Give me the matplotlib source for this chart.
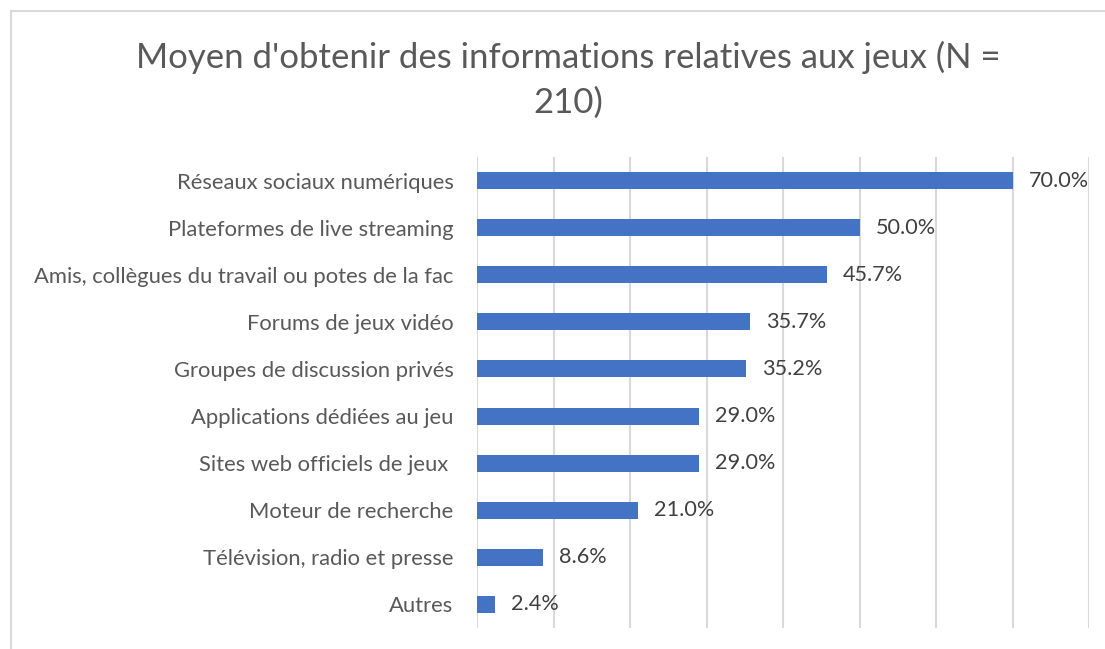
import matplotlib
matplotlib.use("Agg")
import matplotlib.pyplot as plt
from matplotlib.patches import Rectangle

categories = [
    "Réseaux sociaux numériques",
    "Plateformes de live streaming",
    "Amis, collègues du travail ou potes de la fac",
    "Forums de jeux vidéo",
    "Groupes de discussion privés",
    "Applications dédiées au jeu",
    "Sites web officiels de jeux ",
    "Moteur de recherche",
    "Télévision, radio et presse",
    "Autres",
]
values = [70.0, 50.0, 45.7, 35.7, 35.2, 29.0, 29.0, 21.0, 8.6, 2.4]
title = "Moyen d'obtenir des informations relatives aux jeux (N =\n210)"

plt.rcParams['font.family'] = ['Lato', 'DejaVu Sans']

fig = plt.figure(figsize=(11.05, 6.49), dpi=100)
W, H = 1105, 649
ax = fig.add_axes([477 / W, 1 - 628 / H, (1089 - 477) / W, (628 - 157) / H])

ys = list(range(len(categories)))
ax.barh(ys, values, height=0.36, color="#4472C4", zorder=3)
ax.set_ylim(len(categories) - 0.5, -0.5)
ax.set_xlim(0, 80)
ax.set_xticks(range(0, 81, 10))
ax.set_xticklabels([])
ax.tick_params(axis='x', length=0)
ax.tick_params(axis='y', length=0, pad=17, labelsize=15.8, labelcolor="#595959")
ax.set_yticks(ys)
ax.set_yticklabels(categories)
ax.grid(axis='x', color="#d9d9d9", linewidth=1.5, zorder=0)
for s in ax.spines.values():
    s.set_visible(False)

for y, v in zip(ys, values):
    ax.annotate(f"{v:.1f}%", (v, y), xytext=(11.5, 0), textcoords="offset points",
                va="center", ha="left", fontsize=15.6, color="#404040")

fig.text(568 / W, 1 - 80 / H, title, ha="center", va="center", fontsize=25,
         color="#595959", linespacing=1.5)

fig.patches.append(Rectangle((11 / W, -0.1), 1.2, 1 - 11 / H + 0.1, transform=fig.transFigure,
                             fill=False, edgecolor="#d9d9d9", linewidth=1.5))

fig.savefig("out.png", dpi=100)
